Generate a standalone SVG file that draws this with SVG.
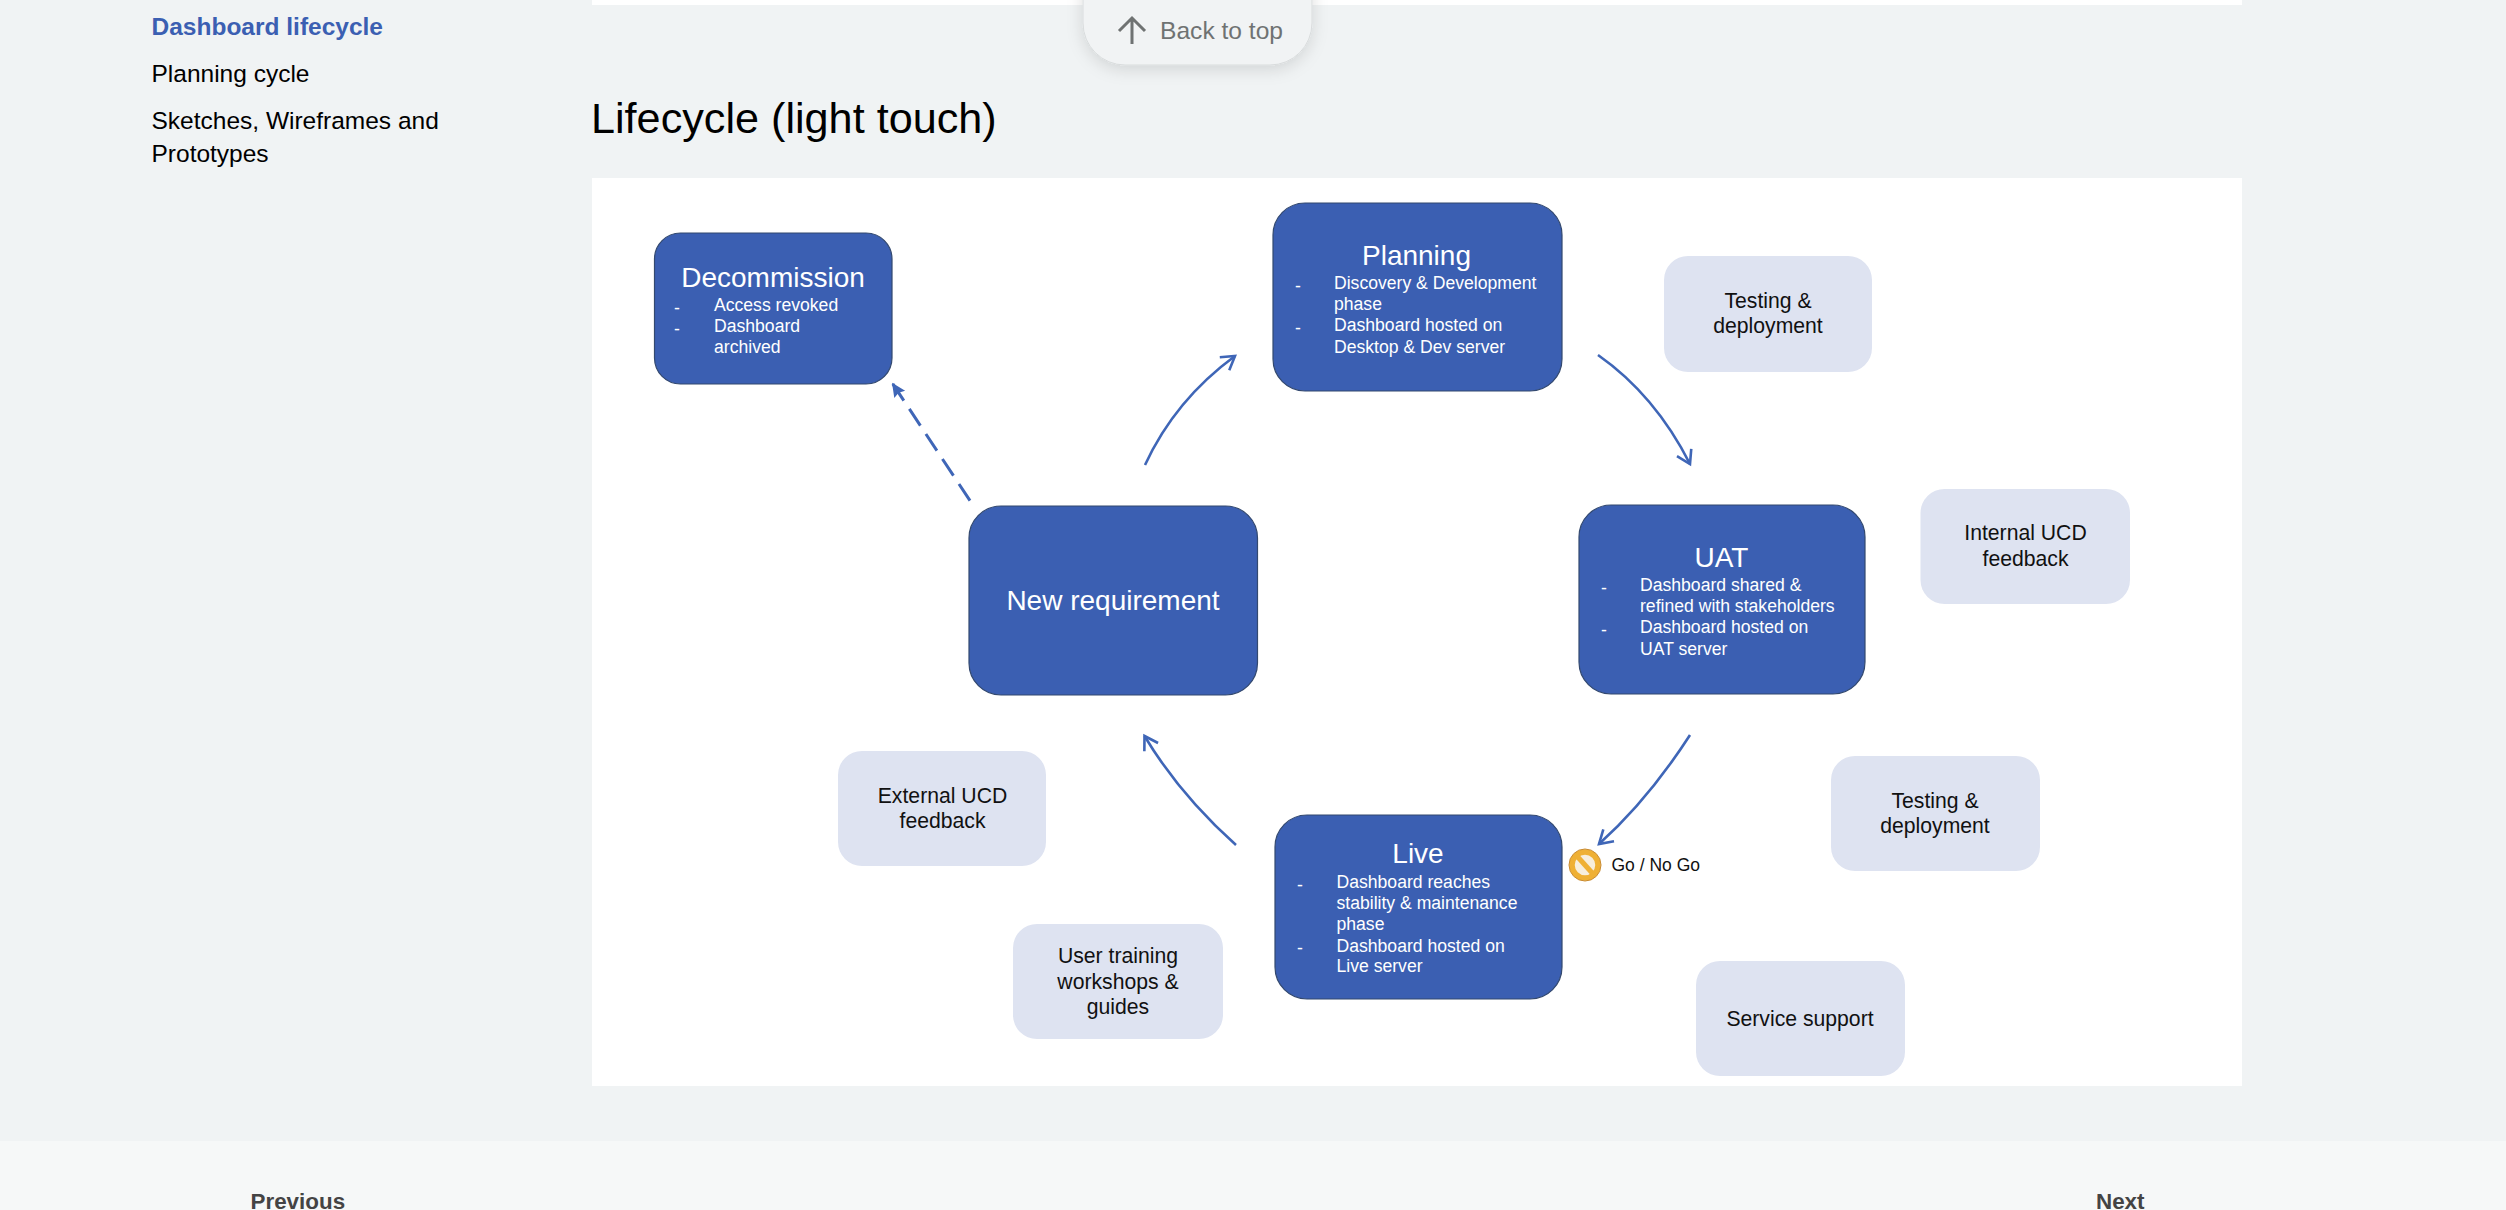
<svg xmlns="http://www.w3.org/2000/svg" width="2506" height="1210" viewBox="0 0 2506 1210">
<style>
text{font-family:"Liberation Sans",Arial,sans-serif}
.n{fill:#3b5fb2;stroke:#33496f;stroke-width:1.2}
.l{fill:#dee3f1}
.t{font-size:28px;fill:#fff;text-anchor:middle}
.b{font-size:17.6px;fill:#fff}
.c{font-size:21.2px;fill:#111;text-anchor:middle}
.side{font-size:24.5px;fill:#000}
.foot{font-size:22.4px;font-weight:700;fill:#444}
.a{fill:none;stroke:#3f66b7;stroke-width:2.6}
</style>
<defs>
<marker id="open" markerUnits="userSpaceOnUse" markerWidth="24" markerHeight="24" refX="16" refY="10" orient="auto"><path d="M3 2L16 10L3 18" fill="none" stroke="#3f66b7" stroke-width="2.6"/></marker>
<marker id="solid" markerUnits="userSpaceOnUse" markerWidth="20" markerHeight="20" refX="14" refY="7" orient="auto"><path d="M0 0.500L14 7L0 13.500L2 7Z" fill="#3f66b7"/></marker>
<filter id="sh" x="-20%" y="-20%" width="140%" height="150%"><feDropShadow dx="0" dy="4" stdDeviation="8" flood-color="#000" flood-opacity=".13"/></filter>
</defs>
<rect id="page" width="2506" height="1210" fill="#f0f3f4"/>
<rect x="592" y="0" width="1650" height="5" fill="#fff"/>
<rect id="panel" x="592" y="178" width="1650" height="908" fill="#fff"/>
<rect id="footer" y="1141" width="2506" height="69" fill="#f6f8f8"/>
<g id="sidebar">
<text x="151.5" y="34.500" class="side" style="font-weight:700;fill:#3b5fb2">Dashboard lifecycle</text>
<text x="151.5" y="82" class="side">Planning cycle</text>
<text x="151.5" y="129" class="side">Sketches, Wireframes and</text>
<text x="151.5" y="162" class="side">Prototypes</text>
</g>
<text id="heading" x="591" y="133" font-size="43.2" fill="#000">Lifecycle (light touch)</text>
<g id="back-to-top">
<rect x="1083" y="-60" width="229" height="125" rx="42" fill="#f1f3f4" stroke="#d9dcdd" stroke-width="1" filter="url(#sh)"/>
<path d="M1132 44V18M1119 31L1132 18L1145 31" fill="none" stroke="#6f7272" stroke-width="3"/>
<text x="1160" y="39" font-size="24.6" fill="#6f7272">Back to top</text>
</g>
<g id="connectors">
<path class="a" d="M1145 465Q1175 400 1235 356" marker-end="url(#open)"/>
<path class="a" d="M1598 355Q1655 395 1690 464" marker-end="url(#open)"/>
<path class="a" d="M1690 735Q1648 800 1599 844" marker-end="url(#open)"/>
<path class="a" d="M1236 845Q1180 795 1144.500 736" marker-end="url(#open)"/>
<path class="a" style="stroke-width:3" d="M970 500.700L892 382.700" stroke-dasharray="20 10" marker-end="url(#solid)"/>
</g>
<g id="decommission">
<rect class="n" x="654.500" y="233" width="237.500" height="151" rx="26"/>
<text class="t" x="773" y="287">Decommission</text>
<text class="b" x="714" y="311">Access revoked</text>
<text class="b" x="714" y="332">Dashboard</text>
<text class="b" x="714" y="353">archived</text>
<text class="b" x="674" y="314">-</text><text class="b" x="674" y="335">-</text>
</g>
<g id="planning">
<rect class="n" x="1273" y="203" width="289" height="188" rx="32"/>
<text class="t" x="1416.500" y="265">Planning</text>
<text class="b" x="1334" y="289">Discovery &amp; Development</text>
<text class="b" x="1334" y="310">phase</text>
<text class="b" x="1334" y="331">Dashboard hosted on</text>
<text class="b" x="1334" y="353">Desktop &amp; Dev server</text>
<text class="b" x="1295" y="292">-</text><text class="b" x="1295" y="334">-</text>
</g>
<g id="new-requirement">
<rect class="n" x="969" y="506" width="288.500" height="189" rx="32"/>
<text class="t" x="1113" y="610">New requirement</text>
</g>
<g id="uat">
<rect class="n" x="1579" y="505" width="286" height="189" rx="32"/>
<text class="t" x="1721.500" y="567">UAT</text>
<text class="b" x="1640" y="591">Dashboard shared &amp;</text>
<text class="b" x="1640" y="612">refined with stakeholders</text>
<text class="b" x="1640" y="633">Dashboard hosted on</text>
<text class="b" x="1640" y="655">UAT server</text>
<text class="b" x="1601" y="594">-</text><text class="b" x="1601" y="636">-</text>
</g>
<g id="live">
<rect class="n" x="1275" y="815" width="287" height="184" rx="32"/>
<text class="t" x="1418" y="863">Live</text>
<text class="b" x="1336.500" y="888">Dashboard reaches</text>
<text class="b" x="1336.500" y="909">stability &amp; maintenance</text>
<text class="b" x="1336.500" y="930">phase</text>
<text class="b" x="1336.500" y="952">Dashboard hosted on</text>
<text class="b" x="1336.500" y="972">Live server</text>
<text class="b" x="1297" y="891">-</text><text class="b" x="1297" y="954">-</text>
</g>
<g id="testing-1"><rect class="l" x="1664" y="256" width="208" height="116" rx="24"/>
<text class="c" x="1768" y="308">Testing &amp;</text><text class="c" x="1768" y="333">deployment</text></g>
<g id="internal-ucd"><rect class="l" x="1920.500" y="489" width="209.500" height="115" rx="24"/>
<text class="c" x="2025.500" y="540">Internal UCD</text><text class="c" x="2025.500" y="566">feedback</text></g>
<g id="testing-2"><rect class="l" x="1831" y="756" width="209" height="115" rx="24"/>
<text class="c" x="1935" y="808">Testing &amp;</text><text class="c" x="1935" y="833">deployment</text></g>
<g id="external-ucd"><rect class="l" x="838" y="751" width="208" height="115" rx="24"/>
<text class="c" x="942.500" y="803">External UCD</text><text class="c" x="942.500" y="828">feedback</text></g>
<g id="user-training"><rect class="l" x="1013" y="924" width="210" height="115" rx="24"/>
<text class="c" x="1118" y="963">User training</text><text class="c" x="1118" y="989">workshops &amp;</text><text class="c" x="1118" y="1014">guides</text></g>
<g id="service-support"><rect class="l" x="1696" y="961" width="209" height="115" rx="24"/>
<text class="c" x="1800" y="1026">Service support</text></g>
<g id="go-no-go">
<circle cx="1585" cy="865" r="13" fill="#f7eedd" stroke="#efb035" stroke-width="5.500"/>
<circle cx="1585" cy="865" r="16" fill="none" stroke="#c98a2e" stroke-width="1"/>
<path d="M1576 855L1594 875" stroke="#efb035" stroke-width="5"/>
<text x="1611.500" y="870.500" font-size="17.500" fill="#111">Go / No Go</text>
</g>
<text id="previous" x="250.500" y="1209" class="foot">Previous</text>
<text id="next" x="2096" y="1209" class="foot">Next</text>
</svg>
